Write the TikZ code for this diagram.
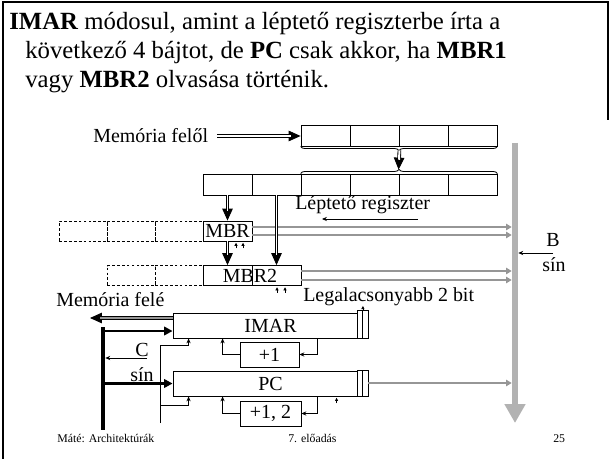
\documentclass[tikz,border=0pt]{standalone}
\usepackage{fontspec}
\setmainfont{Liberation Serif}
\usetikzlibrary{arrows.meta, calc, decorations.pathreplacing}
\definecolor{busgray}{RGB}{178,178,178}
\definecolor{wiregray}{RGB}{150,150,150}
\newcommand{\pxl}{0.025cm}
\newcommand{\lblfont}{\fontsize{14.2}{17}\selectfont}
\newcommand{\ttlfont}{\fontsize{17.6}{21}\selectfont}
\newcommand{\ftrfont}{\fontsize{8.4}{10}\selectfont}

\begin{document}
\begin{tikzpicture}[
  x=\pxl, y=-\pxl,
  ttl/.style={font=\ttlfont, inner sep=0pt},
  lbl/.style={font=\lblfont, inner sep=0pt},
  ftr/.style={font=\ftrfont, inner sep=0pt},
  cell/.style={draw, line width=0.6pt, minimum width=49*\pxl,
               minimum height=21*\pxl, inner sep=0pt, font=\lblfont},
  ghost/.style={cell, dash pattern=on 2pt off 1.5pt, minimum width=48*\pxl,
                minimum height=20*\pxl},
  reg/.style={draw, line width=0.6pt, minimum width=195*\pxl,
              minimum height=25*\pxl, inner sep=0pt, font=\lblfont},
  lowbit/.style={draw, line width=0.6pt, fill=white, minimum width=5.5*\pxl,
                 inner sep=0pt},
  brc/.style={decorate, decoration={brace, amplitude=3pt}, line width=0.6pt},
  dtip/.style={line width=0.6pt, -{Triangle[length=8.5pt, width=7.5pt]}},
  dshaft/.style={line width=0.6pt, double distance=1.4pt, shorten >=7pt},
  wire/.style={wiregray, line width=1.3pt, -{Triangle[length=4pt, width=4.5pt]}},
  busline/.style={busgray, line width=4.6pt, -{Triangle[length=13.5pt, width=14.2pt]}},
  thkarr/.style={line width=1.8pt, -{Triangle[length=6pt, width=6pt]}},
  thinarr/.style={line width=0.6pt, -{Stealth[length=3.5pt, width=3pt]}},
  fbarr/.style={line width=0.6pt, -{Stealth[length=3.5pt, width=3pt]}},
  tick/.style={line width=0.5pt, -{Latex[length=2.5pt, width=2.5pt]}}
]
\fill[white] (0,0) rectangle (611,459);
\useasboundingbox (0,0) rectangle (611,459);
\draw[line width=1.3pt] (3,459) -- (3,2) -- (608,2) -- (608,120);

% title
\node[ttl, anchor=base west] (ln1) at (9,30)
  {\textbf{IMAR} módosul, amint a léptető regiszterbe írta a};
\node[ttl, anchor=base west] (ln2) at (25,59)
  {következő 4 bájtot, de \textbf{PC} csak akkor, ha \textbf{MBR1}};
\node[ttl, anchor=base west] (ln3) at (25,88)
  {vagy \textbf{MBR2} olvasása történik.};

% buses
\coordinate (btop) at (515,143);
\coordinate (bbot) at (515,423);
\coordinate (ctop) at (103,327);
\coordinate (cbot) at (103,430);
\draw[busline] (btop) -- (bbot);
\draw[line width=3.2pt] (ctop) -- (cbot);

% memory word and shift register
\foreach \i in {1,...,4}
  \node[cell] (t\i) at (276.5+49*\i,135.5) {};
\foreach \i in {1,...,6}
  \node[cell] (s\i) at (178.5+49*\i,184.5) {};
\draw[brc] (t4.south east) -- (t1.south west);
\draw[brc] (s3.north west) -- (s6.north east);

% MBR rows
\node[cell, minimum height=20*\pxl] (mbr) at (227.5,231) {MBR};
\node[cell, minimum height=20*\pxl] (m2a) at (227.5,275.5) {};
\node[cell, minimum height=20*\pxl] (m2b) at (276.5,275.5) {};
\node[lbl] (m2txt) at (250,275.5) {MBR2};
\foreach \i in {1,2,3}
  \node[ghost] (g\i) at (227-48*\i,231) {};
\foreach \i in {1,2}
  \node[ghost] (h\i) at (227-48*\i,275.5) {};

% IMAR and PC
\node[reg] (imar) at (270.5,325.5) {IMAR};
\node[lowbit, minimum height=28*\pxl] (ib1) at (359.75,324) {};
\node[lowbit, minimum height=28*\pxl] (ib2) at (365.25,324) {};
\node[cell, minimum width=59*\pxl, minimum height=25*\pxl] (inc1) at (269.5,354.5) {+1};
\node[reg] (pc) at (270.5,383.5) {PC};
\node[lowbit, minimum height=26*\pxl] (pb1) at (359.75,383) {};
\node[lowbit, minimum height=26*\pxl] (pb2) at (365.25,383) {};
\node[cell, minimum width=61*\pxl, minimum height=25*\pxl] (inc2) at (270.5,413.5) {+1, 2};

% labels
\node[lbl, anchor=west] (memin) at (93,136) {Memória felől};
\node[lbl, anchor=west] (shlab) at (295,205) {Léptető regiszter};
\node[lbl, anchor=west] (lowlab) at (303,297) {Legalacsonyabb 2 bit};
\node[lbl, anchor=west] (memout) at (56,300) {Memória felé};
\node[lbl] (blab) at (553,240) {B};
\node[lbl] (bsin) at (554,265) {sín};
\node[lbl] (clab) at (142,350) {C};
\node[lbl] (csin) at (142,375) {sín};

% gray wires to the B bus
\foreach \n/\dy in {mbr/-4, mbr/4, m2b/-4.5, m2b/4.5}
  \draw[wire] ($(\n.east)+(0,\dy)$) -- ($(\n.east -| btop)+(-3.3,\dy)$);
\draw[wire] (pb2.east) -- ($(pb2.east -| btop)+(-3.3,0)$);

% double arrows
\coordinate (minA) at ($(memin.east)+(9,0)$);
\coordinate (minB) at (memin.east -| t1.west);
\coordinate (dropA) at ($(t2.south east)+(0,4)$);
\coordinate (dropB) at ($(s5.north west)+(0,-4)$);
\coordinate (moutA) at ($(imar.west)+(0,-7.5)$);
\coordinate (mtip) at (90,318);
\foreach \a/\b/\col in {minA/minB/white, dropA/dropB/white,
    s1.south/mbr.north/white, mbr.south/m2a.north/white,
    s2.south/m2b.north/white, moutA/mtip/wiregray} {
  \draw[dtip] (\a) -- (\b);
  \draw[dshaft, double=\col] (\a) -- (\b);
}

% small arrows
\coordinate (shA) at (418,219);
\coordinate (shB) at (322,219);
\draw[thinarr] (shA) -- (shB);
\coordinate (bmid) at (553,253);
\draw[thinarr] (bmid) -- ($(bmid -| btop)+(3.3,0)$);
\coordinate (cmid) at (147,358);
\draw[thinarr] (cmid) -- ($(cmid -| ctop)+(2.3,0)$);

% C bus into the registers
\draw[thkarr] ($(imar.west -| ctop)+(0,5.5)$) -- ($(imar.west)+(0,5.5)$);
\draw[thkarr] (pc.west -| ctop) -- (pc.west);

% increment loops
\draw[fbarr] ($(imar.south west)+(145,0)$) |- (inc1.east);
\draw[fbarr] (inc1.west) -| ($(imar.south west)+(50,0)$);
\draw[fbarr] ($(pc.south west)+(145,0)$) |- (inc2.east);
\draw[fbarr] (inc2.west) -| ($(pc.south west)+(50,0)$);
\coordinate (ctl) at (160,423);
\draw[fbarr] (ctl) -- ++(0,-78) -| ($(imar.south west)+(16,0)$);
\draw[fbarr] ($(ctl)+(0,-18)$) -| ($(pc.south west)+(16,0)$);

% tiny strobes
\foreach \n/\dx in {mbr/8.5, mbr/15.5, m2b/0.5, m2b/8.5}
  \draw[tick] ($(\n.south)+(\dx,7)$) -- ($(\n.south)+(\dx,1)$);
\draw[tick] ($(pc.south west)+(164,7)$) -- ($(pc.south west)+(164,1)$);
\draw[tick] (ib1.north east) -- ++(0,-4);

% footer
\node[ftr, anchor=base west] (f1) at (57,442) {Máté: Architektúrák};
\node[ftr, anchor=base west] (f2) at (288,442) {7. előadás};
\node[ftr, anchor=base west] (f3) at (553,442) {25};
\end{tikzpicture}
\end{document}
